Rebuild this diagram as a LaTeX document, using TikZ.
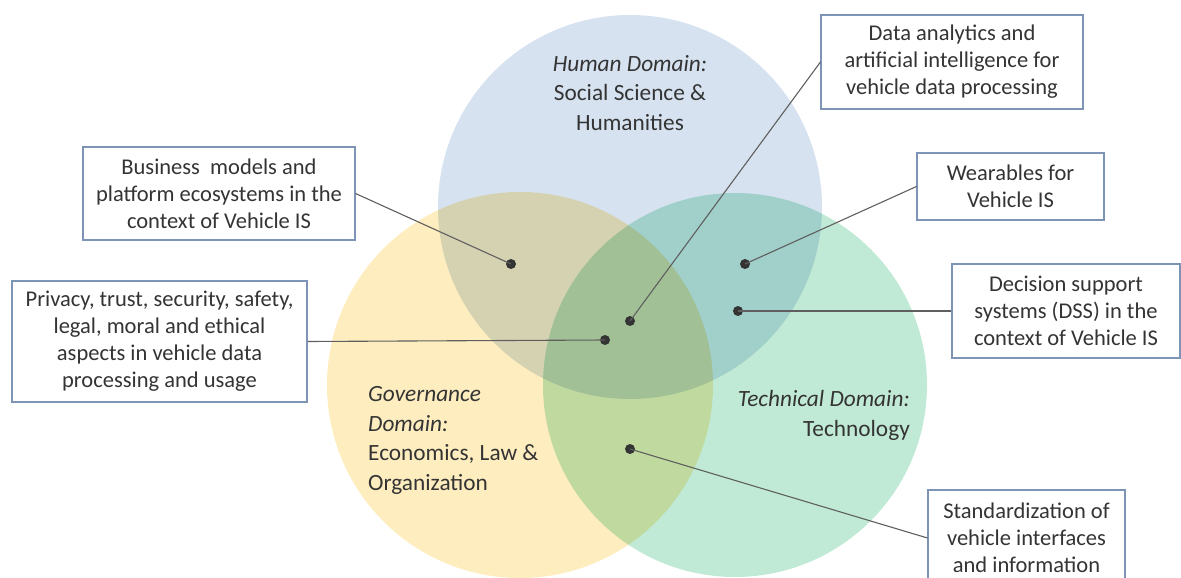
\documentclass[tikz,border=0pt]{standalone}
\usepackage{fontspec}
\setmainfont{Carlito}
\definecolor{cblue}{RGB}{214,226,240}
\definecolor{cyellow}{RGB}{254,237,190}
\definecolor{cgreen}{RGB}{193,234,214}
\definecolor{boxline}{RGB}{125,148,182}
\definecolor{txt}{RGB}{52,52,52}
\definecolor{conn}{RGB}{95,95,95}
\tikzset{
  infobox/.style={draw=boxline, line width=1.1pt, fill=white, align=center, text=txt,
    font=\fontsize{22.5}{27}\selectfont, inner sep=0pt},
  domlabel/.style={text=txt, font=\fontsize{23.3}{29.5}\selectfont, inner sep=0pt},
  dot/.style={circle, fill=txt, inner sep=0pt, minimum size=10pt},
  link/.style={draw=conn, line width=1.1pt}
}
\begin{document}
\begin{tikzpicture}[x=1pt,y=-1pt]
\useasboundingbox (0,0) rectangle (1181,578);
% circles
\fill[cblue, blend mode=multiply] (630,207) circle[radius=192pt];
\fill[cyellow, blend mode=multiply] (520,385) circle[radius=193pt];
\fill[cgreen, blend mode=multiply] (735,385) circle[radius=192pt];
% domain labels
\node[domlabel, align=center] (hum) at (630,93) {\textit{Human Domain:}\\Social Science \&\\Humanities};
\node[domlabel, align=left, anchor=west] (gov) at (368,440.5) {\textit{Governance}\\\textit{Domain:}\\Economics, Law \&\\Organization};
\node[domlabel, align=right, anchor=east] (tec) at (910,415.5) {\textit{Technical Domain:}\\Technology};
% dots
\node[dot] (d1) at (630,321) {};
\node[dot] (d2) at (745,264) {};
\node[dot] (d3) at (738,311) {};
\node[dot] (d4) at (630,449) {};
\node[dot] (d5) at (511,264) {};
\node[dot] (d6) at (605,340) {};
% boxes
\node[infobox, minimum width=262pt, minimum height=94pt] (b1) at (952,62) {Data analytics and\\artificial intelligence for\\vehicle data processing};
\node[infobox, minimum width=187pt, minimum height=67pt] (b2) at (1010.5,186.5) {Wearables for\\Vehicle IS};
\node[infobox, minimum width=228pt, minimum height=94pt] (b3) at (1066,311) {Decision support\\systems (DSS) in the\\context of Vehicle IS};
\node[infobox, minimum width=197pt, minimum height=96pt] (b4) at (1026.5,538) {Standardization of\\vehicle interfaces\\and information};
\node[infobox, minimum width=272pt, minimum height=93pt] (b5) at (219,193.5) {Business\ \ models and\\platform ecosystems in the\\context of Vehicle IS};
\node[infobox, minimum width=295pt, minimum height=121pt] (b6) at (159.5,341.5) {Privacy, trust, security, safety,\\legal, moral and ethical\\aspects in vehicle data\\processing and usage};
% connectors
\draw[link] (b1.west) -- (d1.center);
\draw[link] (b2.west) -- (d2.center);
\draw[link] (b3.west) -- (d3.center);
\draw[link] (b4.west) -- (d4.center);
\draw[link] (b5.east) -- (d5.center);
\draw[link] (b6.east) -- (d6.center);
\end{tikzpicture}
\end{document}
